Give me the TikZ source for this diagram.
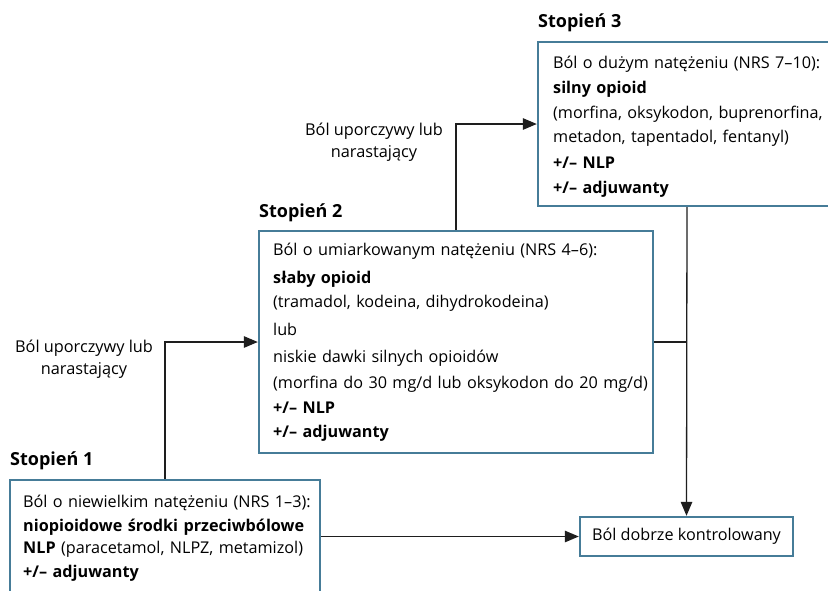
\documentclass[tikz,border=0pt]{standalone}
\usepackage{fontspec}
\setmainfont{Open Sans}
\usetikzlibrary{arrows.meta,calc}
\definecolor{boxblue}{RGB}{70,124,152}
\definecolor{linegray}{RGB}{30,30,30}
\begin{document}
\begin{tikzpicture}[x=1pt,y=-1pt,
  stepbox/.style={draw=boxblue,line width=2.4pt,fill=white,inner sep=0pt},
  boxtext/.style={anchor=base west,inner sep=0pt,text width=#1,align=left,font=\fontsize{16.2}{24}\selectfont},
  stagelabel/.style={anchor=base west,inner sep=0pt,font=\fontsize{18}{20}\selectfont\bfseries},
  sidelabel/.style={align=center,inner sep=0pt,font=\fontsize{16.3}{22}\selectfont},
  conn/.style={draw=linegray,line width=1.3pt},
  arr/.style={conn,-{Triangle[length=14pt,width=11.5pt]}}]
\clip (0,0) rectangle (828,590);
\fill[white] (0,0) rectangle (828,590);

% boxes
\node[stepbox,minimum width=310pt,minimum height=130pt] (b1) at (165,545) {};
\node[stepbox,minimum width=394pt,minimum height=222pt] (b2) at (456,342) {};
\node[stepbox,minimum width=298pt,minimum height=164pt] (b3) at (687,124) {};
\node[stepbox,minimum width=213pt,minimum height=39pt,
      font=\fontsize{16.2}{20}\selectfont] (b4) at (686.5,536.5) {Ból dobrze kontrolowany};

% stage labels
\node[stagelabel] (s1) at (10,465) {Stopień 1};
\node[stagelabel] (s2) at (259,217) {Stopień 2};
\node[stagelabel] (s3) at (538,27) {Stopień 3};

% box texts
\node[boxtext=300pt] (t1) at (23,507) {Ból o niewielkim natężeniu (NRS 1–3):\\
\textbf{niopioidowe środki przeciwbólowe}\\[-2pt]
\textbf{NLP} (paracetamol, NLPZ, metamizol)\\
\textbf{+/– adjuwanty}};

\node[boxtext=380pt] (t2) at (273,255) {Ból o umiarkowanym natężeniu (NRS 4–6):\\[4pt]
\textbf{słaby opioid}\\
(tramadol, kodeina, dihydrokodeina)\\[4pt]
lub\\[3pt]
niskie dawki silnych opioidów\\[2pt]
(morfina do 30 mg/d lub oksykodon do 20 mg/d)\\[1pt]
\textbf{+/– NLP}\\
\textbf{+/– adjuwanty}};

\node[boxtext=280pt] (t3) at (553,68) {Ból o dużym natężeniu (NRS 7–10):\\[1pt]
\textbf{silny opioid}\\[1pt]
(morfina, oksykodon, buprenorfina,\\
metadon, tapentadol, fentanyl)\\[2pt]
\textbf{+/– NLP}\\[1pt]
\textbf{+/– adjuwanty}};

% side labels
\node[sidelabel] (l1) at (84,359) {Ból uporczywy lub\\narastający};
\node[sidelabel] (l2) at (374,142) {Ból uporczywy lub\\narastający};

% connectors
\draw[arr] (b1.north) |- (b2.west);
\draw[arr] (b2.north) |- (b3.west);
\draw[arr] (b3.south) -- (b4.north);
\draw[conn] (b2.east) -- (b2.east -| b4.north);
\draw[arr] (b4.west -| b1.east) -- (b4.west);
\end{tikzpicture}
\end{document}
